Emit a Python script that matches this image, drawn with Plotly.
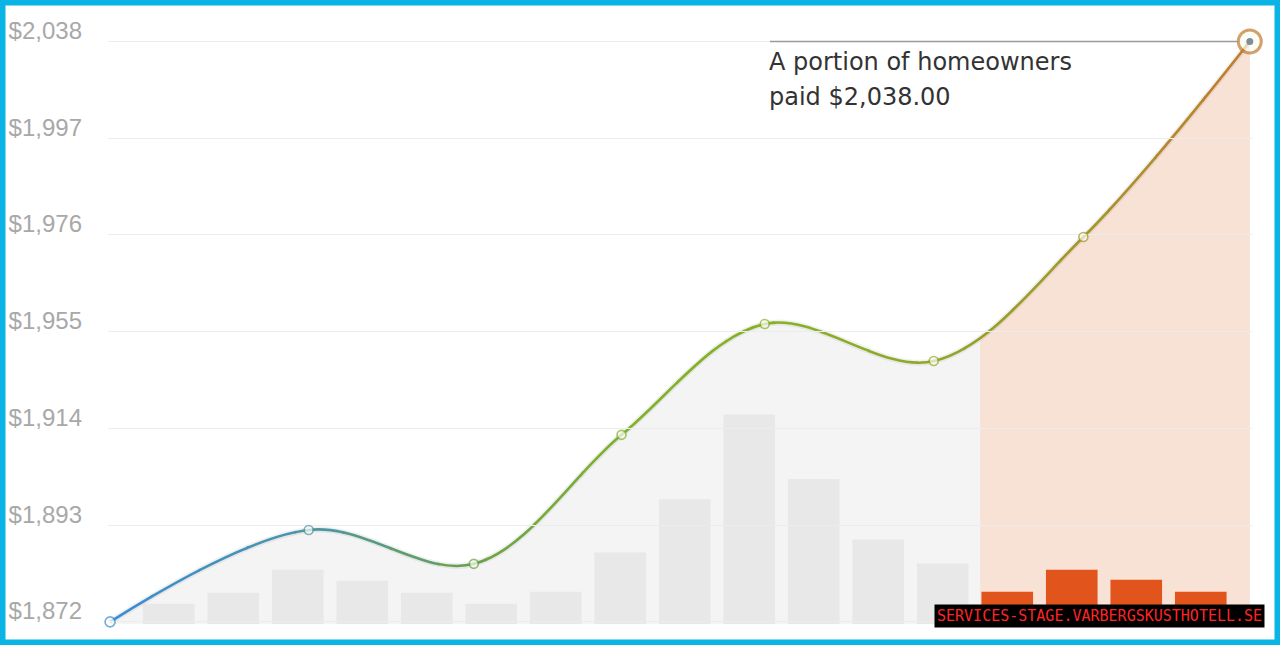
import numpy as np
import plotly.graph_objects as go

# ---------------- data ----------------
point_x = [-0.91, 2.17, 4.73, 7.02, 9.24, 11.86, 14.18, 16.76]
price = [1872.0, 1898.3, 1888.6, 1925.5, 1957.2, 1946.6, 1982.1, 2038.0]
bar_idx = list(range(17))
bar_val = [10, 15.5, 27, 21.5, 15.5, 10, 16, 35.5, 62, 104, 72, 42, 30, 16, 27, 22, 16]
highlight_start = 12.58
tick_text = ["$1,872", "$1,893", "$1,914", "$1,955", "$1,976", "$1,997", "$2,038"]
note_lines = ["A portion of homeowners", "paid $2,038.00"]
note_x = 9.32
watermark = "SERVICES-STAGE.VARBERGSKUSTHOTELL.SE"

# ---------------- layout geometry ----------------
W, H = 1280, 645
ML, MR, MT, MB = 108, 28, 20, 21
PW, PH = W - ML - MR, H - MT - MB
X0 = -0.942
X1 = X0 + PW / 64.5
Y0, Y1 = 1871.4, 2044.15
tick_vals = list(np.linspace(price[0], price[-1], len(tick_text)))
SMOOTH = 1.0

stops_u = [-0.91, 2.17, 4.73, 7.02, 9.24, 11.86, 14.18, 16.76]
stops_c = [(58, 140, 214), (74, 150, 168), (104, 162, 72), (128, 178, 42),
           (134, 178, 36), (142, 168, 38), (162, 152, 42), (198, 122, 42)]


def col(u):
    ch = [int(round(np.interp(u, stops_u, [c[k] for c in stops_c]))) for k in range(3)]
    return "rgb(%d,%d,%d)" % tuple(ch)


def dom(a, b):
    return [max(0.0, (a - X0) / (X1 - X0)), min(1.0, (b - X0) / (X1 - X0))]


fig = go.Figure()
layout_axes = {}

common_x = dict(visible=False, showgrid=False, zeroline=False, fixedrange=True,
                automargin=False)

# 1) grey fill under the whole curve
layout_axes["xaxis"] = dict(domain=[0, 1], range=[X0, X1], anchor="y", **common_x)
fig.add_trace(go.Scatter(x=point_x, y=price, mode="lines", xaxis="x", yaxis="y",
                         line=dict(width=0, shape="spline", smoothing=SMOOTH, simplify=False),
                         fill="tozeroy", fillcolor="#f4f4f4", hoverinfo="skip",
                         showlegend=False))

# 2) orange fill (highlighted period)
a, b = highlight_start, X1
layout_axes["xaxis2"] = dict(domain=dom(a, b), range=[a, b], anchor="y", **common_x)
fig.add_trace(go.Scatter(x=point_x, y=price, mode="lines", xaxis="x2", yaxis="y",
                         line=dict(width=0, shape="spline", smoothing=SMOOTH, simplify=False),
                         fill="tozeroy", fillcolor="#f8e1d5", hoverinfo="skip",
                         showlegend=False))

# 3) bars
layout_axes["xaxis3"] = dict(domain=[0, 1], range=[X0, X1], anchor="y2", **common_x)
bar_colors = ["#e1541b" if i > highlight_start else "#e8e8e8" for i in bar_idx]
fig.add_trace(go.Bar(x=bar_idx, y=bar_val, xaxis="x3", yaxis="y2", width=0.8,
                     marker=dict(color=bar_colors, line=dict(width=0)),
                     hoverinfo="skip", showlegend=False))

# 4) soft shadow under line
layout_axes["xaxis4"] = dict(domain=[0, 1], range=[X0, X1], anchor="y", **common_x)
fig.add_trace(go.Scatter(x=point_x, y=price, mode="lines", xaxis="x4", yaxis="y",
                         line=dict(width=6, shape="spline", smoothing=SMOOTH, simplify=False,
                                   color="rgba(0,0,0,0.06)"),
                         hoverinfo="skip", showlegend=False))

# 5) gradient line drawn in slices
N = 24
edges = np.linspace(point_x[0] - 0.1, X1, N + 1)
n_ax = 5
for i in range(N):
    a = max(X0, edges[i] - 0.015)
    b = min(X1, edges[i + 1] + 0.015)
    name = "xaxis%d" % n_ax
    layout_axes[name] = dict(domain=dom(a, b), range=[a, b], anchor="y", **common_x)
    fig.add_trace(go.Scatter(x=point_x, y=price, mode="lines", xaxis="x%d" % n_ax, yaxis="y",
                             line=dict(width=2.6, shape="spline", smoothing=SMOOTH, simplify=False,
                                       color=col(0.5 * (edges[i] + edges[i + 1]))),
                             hoverinfo="skip", showlegend=False))
    n_ax += 1

# 6) markers
layout_axes["xaxis%d" % n_ax] = dict(domain=[0, 1], range=[X0, X1], anchor="y", **common_x)
m_sizes = [10] + [9] * (len(price) - 2) + [23]
m_lw = [1.6] * (len(price) - 1) + [3]
m_line_col = [col(u) for u in point_x[:-1]] + ["#bf7a30"]
fig.add_trace(go.Scatter(x=point_x, y=price, mode="markers", xaxis="x%d" % n_ax, yaxis="y",
                         marker=dict(size=m_sizes, color="#fbfdf2",
                                     line=dict(width=m_lw, color=m_line_col)),
                         cliponaxis=False, hoverinfo="skip", showlegend=False))
fig.add_trace(go.Scatter(x=[point_x[-1]], y=[price[-1]], mode="markers",
                         xaxis="x%d" % n_ax, yaxis="y",
                         marker=dict(size=7, color="#7f8d9b", line=dict(width=0)),
                         cliponaxis=False, hoverinfo="skip", showlegend=False))

fig.update_layout(**layout_axes)
fig.update_layout(
    width=W, height=H,
    margin=dict(l=ML, r=MR, t=MT, b=MB, pad=0, autoexpand=False),
    paper_bgcolor="white", plot_bgcolor="rgba(0,0,0,0)",
    bargap=0.2,
    showlegend=False,
    yaxis=dict(domain=[0, 1], range=[Y0, Y1], anchor="x",
               tickvals=tick_vals, ticktext=tick_text,
               tickfont=dict(family="Liberation Sans, Arial", size=24, color="#a8a8a8"),
               showgrid=True, gridcolor="#ececec", gridwidth=1,
               zeroline=False, showline=False, ticks="", automargin=False,
               ticklabelshift=-11, ticklabelstandoff=25, fixedrange=True),
    yaxis2=dict(domain=[0, 1], range=[0, 300], anchor="x3", visible=False,
                showgrid=False, zeroline=False, fixedrange=True, automargin=False),
)

# annotation line + text
fig.add_shape(type="line", xref="x", yref="y", x0=note_x, x1=point_x[-1] - 0.18,
              y0=price[-1], y1=price[-1], line=dict(color="#9a9a9a", width=1.6))
for txt, ys in zip(note_lines, [-20, -55]):
    fig.add_annotation(x=note_x, y=price[-1], xref="x", yref="y", text=txt,
                       showarrow=False, xanchor="left", yanchor="middle", yshift=ys,
                       xshift=-3,
                       font=dict(family="DejaVu Sans", size=24, color="#333333"))

# watermark
fig.add_annotation(x=(1265 - ML) / PW, y=(H - MB - 628) / PH, xref="paper", yref="paper",
                   text=watermark, showarrow=False, xanchor="right", yanchor="bottom",
                   bgcolor="black", borderpad=2,
                   font=dict(family="DejaVu Sans Mono", size=15, color="#ff2424"))

# cyan frame around the picture
fig.add_shape(type="rect", xref="paper", yref="paper", layer="above",
              x0=-ML / PW, x1=1 + MR / PW, y0=-MB / PH, y1=1 + MT / PH,
              line=dict(color="#0ab4e4", width=11), fillcolor="rgba(0,0,0,0)")

fig.write_html("out.html", config={"displayModeBar": False},
               post_script="document.body.style.margin='0';document.body.style.overflow='hidden';")
